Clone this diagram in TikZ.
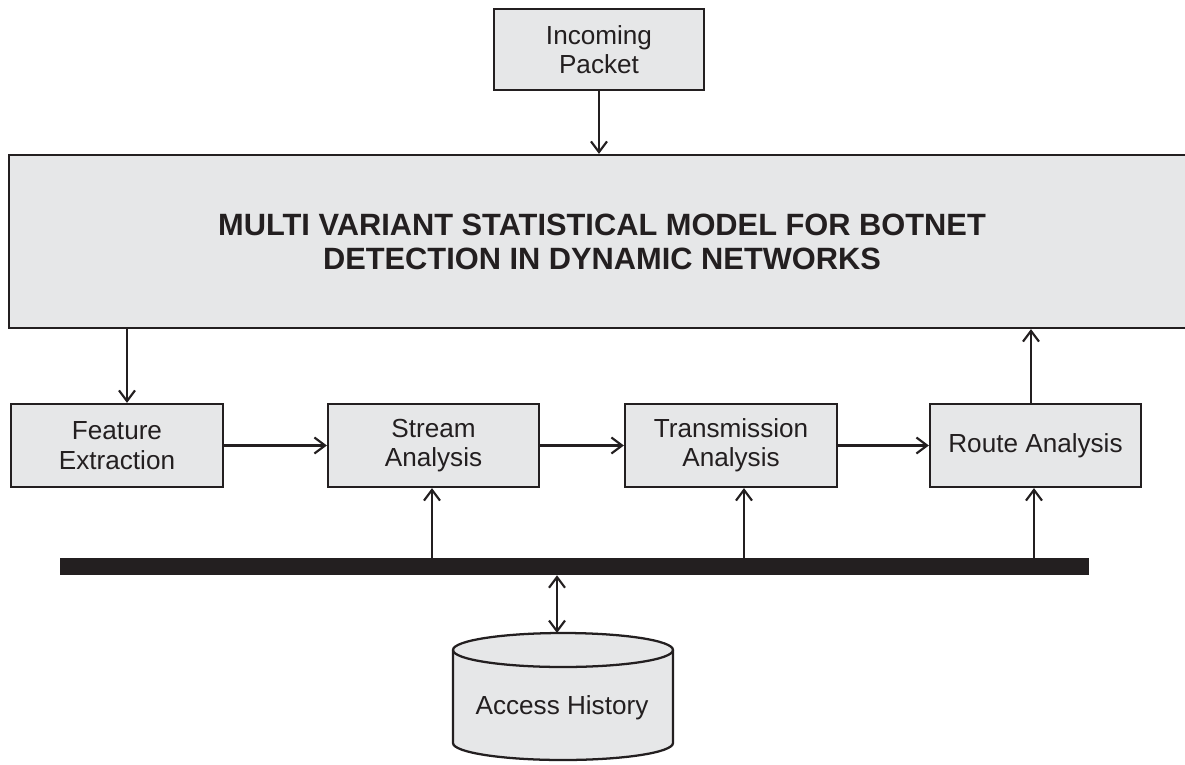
\documentclass[tikz,border=0pt]{standalone}
\usepackage{fontspec}
\setmainfont{Liberation Sans}
\usetikzlibrary{arrows.meta}
\definecolor{ink}{HTML}{231F20}
\definecolor{boxfill}{HTML}{E6E7E8}
\tikzset{
  blk/.style={draw=ink, line width=1.7pt, fill=boxfill, text=ink, inner sep=0pt, align=center,
    font=\fontsize{19.6}{22}\selectfont},
  conn/.style={draw=ink, line width=1.6pt, -{Straight Barb[length=8pt,width=12pt,line width=1.6pt]}},
  dconn/.style={draw=ink, line width=1.6pt, {Straight Barb[length=8pt,width=12pt,line width=1.6pt]}-{Straight Barb[length=8pt,width=12pt,line width=1.6pt]}}
}
\begin{document}
\begin{tikzpicture}[x=0.75pt,y=-0.75pt]
\useasboundingbox (0,0) rectangle (1185,764);
% boxes
\node[blk, minimum width=157.5pt, minimum height=60.75pt] (inc) at (599,49.5) {Incoming\\Packet};
\node[blk, minimum width=908.25pt, minimum height=129.75pt] (model) at (614.5,241.5) {};
\node[text=ink, align=center, font=\fontsize{23.1}{25.5}\selectfont\bfseries] (modeltext) at (602,242)
  {MULTI VARIANT STATISTICAL MODEL FOR BOTNET\\DETECTION IN DYNAMIC NETWORKS};
\node[blk, minimum width=159pt, minimum height=62.25pt] (feat) at (117,445.5) {Feature\\Extraction};
\node[blk, minimum width=158.25pt, minimum height=62.25pt] (stream) at (433.5,445.5) {Stream\\Analysis};
\node[blk, minimum width=159pt, minimum height=62.25pt] (trans) at (731,445.5) {Transmission\\Analysis};
\node[blk, minimum width=158.25pt, minimum height=62.25pt] (route) at (1035.5,445.5) {Route Analysis};
% bus bar
\node[fill=ink, draw=none, inner sep=0pt, minimum width=771.75pt, minimum height=12.75pt] (bar) at (574.5,566.5) {};
% database cylinder
\draw[draw=ink, line width=1.7pt, fill=boxfill] (453,650) -- (453,743)
  arc[start angle=180,end angle=360,x radius=82.5pt,y radius=12.75pt] -- (673,650)
  arc[start angle=0,end angle=180,x radius=82.5pt,y radius=12.75pt] -- cycle;
\draw[draw=ink, line width=1.7pt] (453,650) arc[start angle=180,end angle=360,x radius=82.5pt,y radius=12.75pt];
\coordinate (dbtop) at (557,633);
\node[text=ink, font=\fontsize{19.6}{22}\selectfont] (db) at (562,708) {Access History};
% connectors
\draw[conn] (inc.south) -- (model.north -| inc.south);
\draw[conn] (model.south -| 127,0) -- (feat.north -| 127,0);
\draw[conn] (feat.east) -- (stream.west);
\draw[conn] (stream.east) -- (trans.west);
\draw[conn] (trans.east) -- (route.west);
\draw[conn] (route.north -| 1031,0) -- (model.south -| 1031,0);
\draw[conn] (bar.north -| 432,0) -- (stream.south -| 432,0);
\draw[conn] (bar.north -| 744,0) -- (trans.south -| 744,0);
\draw[conn] (bar.north -| 1034,0) -- (route.south -| 1034,0);
\draw[dconn] (bar.south -| dbtop) -- (dbtop);
\end{tikzpicture}
\end{document}
